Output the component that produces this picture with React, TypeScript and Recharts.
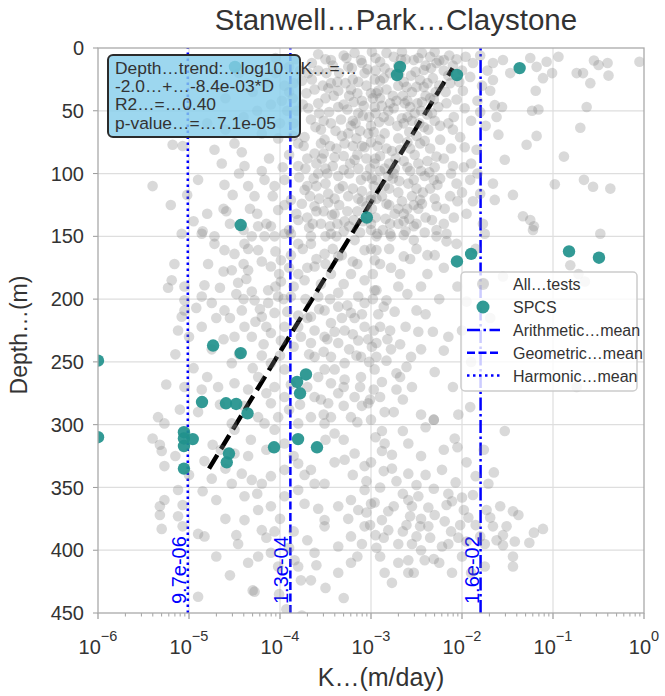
import { ScatterChart, Scatter, XAxis, YAxis, ReferenceLine } from 'recharts'

const FONT = '"Liberation Sans", Arial, Helvetica, sans-serif'
const INK = '#333333'
const BLUE = '#0000ff'
const TEAL = '#21918c'

// all tests as [log10 K (m/day), depth (m)]
const ALL_TESTS: [number, number][] = [
  // shallow, left of the main cloud
  [-5.18, 77], [-5.07, 78], [-4.72, 81], [-4.64, 92], [-4.5, 76], [-4.42, 83], [-4.39, 94], [-4.61, 109],
  [-4.52, 117], [-5.02, 117], [-4.59, 130], [-4.33, 128], [-4.25, 132], [-5.08, 148], [-4.85, 146], [-4.72, 150],
  [-4.1, 45], [-4.0, 60], [-3.95, 30], [-4.2, 68], [-4.4, 55], [-3.9, 15], [-4.05, 20], [-4.3, 35],
  [-5.4, 110], [-5.2, 125],
  [-4.6, 40], [-4.45, 20], [-4.25, 50], [-4.15, 28], [-3.98, 42], [-3.85, 28], [-4.05, 8], [-4.6, 65], [-4.8, 60],
  [-3.92, 50], [-4.02, 72], [-3.97, 95], [-4.12, 88], [-4.08, 118], [-4.2, 98], [-4.35, 110], [-4.45, 100],
  [-4.55, 140], [-4.4, 145], [-4.62, 128], [-4.8, 132], [-4.9, 105], [-4.95, 138],
  // shallow main cloud
  [-3.44, 9.5], [-3.25, 15], [-3.11, 9.5], [-3.07, 20], [-2.96, 25], [-3.62, 33], [-3.44, 28], [-3.22, 33],
  [-3.0, 36], [-3.58, 44], [-3.36, 47], [-3.14, 52], [-2.96, 47], [-3.66, 57], [-3.44, 60], [-3.22, 62],
  [-3.03, 68], [-3.73, 71], [-3.51, 73], [-3.29, 76], [-3.07, 79], [-3.62, 84], [-3.4, 87], [-3.18, 89],
  [-2.96, 92], [-3.8, 94], [-3.58, 100], [-3.36, 102], [-3.11, 105], [-3.95, 105], [-3.73, 113], [-3.47, 116],
  [-3.25, 118], [-3.0, 121], [-4.06, 110], [-3.88, 121], [-3.62, 126], [-3.4, 132], [-4.02, 129], [-3.8, 137],
  [-3.55, 140], [-3.29, 138], [-4.1, 142], [-3.88, 148], [-3.66, 150], [-3.44, 148], [-4.28, 118], [-4.17, 105],
  [-4.24, 142], [-4.31, 150],
  [-2.95, 8], [-2.75, 7], [-2.62, 9], [-2.48, 8], [-2.35, 7], [-2.25, 10], [-2.4, 14], [-2.7, 14],
  [-2.85, 16], [-3.3, 6], [-3.5, 9], [-3.65, 12], [-3.1, 12], [-2.1, 14], [-2.0, 18],
  [-3.35, 20], [-3.2, 25], [-3.05, 30], [-2.9, 26], [-2.7, 30], [-2.55, 35], [-2.4, 38], [-2.25, 30],
  [-2.15, 22], [-3.5, 40], [-3.3, 45], [-3.1, 42], [-2.95, 52], [-2.75, 48], [-2.6, 55], [-2.45, 50],
  [-2.3, 58], [-3.55, 65], [-3.25, 68], [-3.0, 62], [-2.85, 68], [-2.7, 72], [-2.5, 70], [-2.35, 80],
  [-2.2, 88], [-3.45, 78], [-3.15, 85], [-2.95, 88], [-2.8, 92], [-2.6, 95], [-2.45, 98], [-3.6, 92],
  [-3.3, 97], [-3.05, 102], [-2.85, 110], [-2.7, 115], [-2.5, 112], [-2.3, 120], [-3.5, 108], [-3.2, 112],
  [-3.0, 118], [-2.8, 125], [-2.6, 128], [-2.4, 135], [-3.35, 125], [-3.15, 130], [-2.95, 135], [-3.6, 130],
  [-3.45, 142], [-3.0, 145], [-2.7, 140], [-3.85, 60], [-3.75, 45], [-3.65, 25], [-3.9, 85], [-3.7, 110],
  [-3.95, 125], [-4.15, 140], [-3.9, 145],
  [-3.78, 18], [-3.71, 36], [-3.57, 52], [-3.49, 20], [-3.41, 38], [-3.33, 57], [-3.27, 8], [-3.19, 43],
  [-3.12, 66], [-3.04, 17], [-2.98, 40], [-2.91, 59], [-2.83, 33], [-2.77, 82], [-2.69, 21], [-2.63, 44],
  [-2.58, 67], [-2.51, 19], [-2.44, 43], [-2.37, 65], [-2.32, 24], [-2.26, 47], [-2.18, 35], [-2.09, 55],
  [-2.03, 27], [-3.86, 40], [-3.74, 78], [-3.63, 104], [-3.54, 88], [-3.47, 123], [-3.39, 66], [-3.31, 110],
  [-3.23, 92], [-3.16, 72], [-3.09, 138], [-3.01, 96], [-2.93, 78], [-2.88, 118], [-2.81, 102], [-2.73, 88],
  [-2.66, 122], [-2.59, 108], [-2.52, 85], [-2.43, 115], [-2.36, 99], [-2.27, 109], [-2.19, 128], [-2.12, 80],
  [-2.05, 122], [-1.98, 95], [-3.82, 132], [-3.68, 143], [-3.52, 130], [-3.38, 150], [-3.24, 142], [-3.12, 147],
  [-2.99, 128], [-2.87, 145], [-2.74, 132], [-2.62, 146], [-2.48, 128], [-2.41, 147], [-2.33, 137], [-2.2, 140],
  [-2.09, 135], [-3.58, 5], [-3.42, 14], [-3.18, 4], [-2.99, 3], [-2.83, 4], [-2.66, 3], [-2.44, 4],
  [-2.3, 3], [-2.14, 6], [-2.06, 9], [-1.96, 7], [-1.8, 6], [-1.72, 18], [-1.78, 30], [-1.83, 42],
  [-1.74, 62], [-1.9, 58], [-1.97, 48], [-2.02, 71], [-1.9, 92], [-1.83, 100],
  [-3.47, 32], [-3.28, 28], [-3.09, 54], [-2.88, 46], [-2.66, 56], [-2.47, 60], [-2.56, 22], [-2.33, 52],
  [-3.7, 88], [-3.5, 96], [-3.24, 100], [-2.97, 110], [-2.76, 104], [-2.55, 118], [-3.4, 120], [-3.1, 122],
  [-2.9, 98], [-2.38, 90], [-2.6, 75], [-2.8, 58], [-3.0, 75], [-3.2, 58], [-3.38, 80], [-3.55, 76],
  [-3.15, 36], [-2.95, 18], [-2.65, 38], [-2.5, 31], [-2.38, 28], [-2.2, 18],
  [-3.83, 9], [-3.76, 26], [-3.69, 48], [-3.61, 63], [-3.53, 30], [-3.46, 51], [-3.37, 27], [-3.32, 70],
  [-3.26, 49], [-3.21, 16], [-3.14, 27], [-3.08, 46], [-3.02, 55], [-2.97, 67], [-2.92, 34], [-2.86, 24],
  [-2.81, 50], [-2.76, 38], [-2.71, 62], [-2.67, 9], [-2.64, 27], [-2.6, 42], [-2.55, 58], [-2.49, 44],
  [-2.42, 31], [-2.38, 53], [-2.34, 16], [-2.29, 35], [-2.24, 62], [-2.17, 44],
  [-3.86, 70], [-3.79, 103], [-3.72, 96], [-3.67, 118], [-3.6, 110], [-3.52, 84], [-3.48, 100], [-3.42, 94],
  [-3.35, 112], [-3.3, 86], [-3.26, 130], [-3.2, 78], [-3.14, 96], [-3.1, 114], [-3.05, 88], [-2.99, 104],
  [-2.94, 120], [-2.9, 86], [-2.85, 96], [-2.8, 112], [-2.74, 96], [-2.69, 106], [-2.64, 90], [-2.57, 98],
  [-2.53, 125], [-2.48, 92], [-2.41, 102], [-2.35, 112], [-2.3, 95], [-2.24, 104],
  [-3.76, 124], [-3.7, 135], [-3.64, 140], [-3.57, 120], [-3.5, 150], [-3.43, 133], [-3.37, 140], [-3.3, 146],
  [-3.19, 137], [-3.14, 120], [-3.05, 126], [-3.0, 140], [-2.93, 148], [-2.84, 136], [-2.78, 150], [-2.7, 128],
  [-2.64, 138], [-2.58, 136], [-2.5, 140], [-2.44, 124],
  [-3.9, 35], [-3.82, 50], [-3.8, 76], [-3.69, 20], [-3.58, 18], [-3.52, 58], [-3.36, 34], [-3.24, 38],
  [-3.17, 60], [-3.1, 78], [-2.9, 40], [-2.83, 80], [-2.72, 42], [-2.57, 80], [-2.52, 52], [-2.41, 74],
  [-2.35, 40], [-2.15, 60], [-2.12, 100], [-2.0, 115],
  // shallow, right side
  [-2.9, 11], [-2.79, 20], [-2.53, 9.5], [-2.42, 17.5], [-2.28, 12], [-2.2, 9.5], [-2.46, 25.5], [-2.61, 31],
  [-2.94, 36], [-2.79, 44], [-2.57, 47], [-2.31, 41], [-2.06, 41], [-1.99, 34], [-2.13, 28], [-1.91, 23],
  [-1.88, 12], [-1.66, 12], [-1.55, 9.5], [-1.47, 20], [-1.66, 25.5], [-1.69, 34], [-1.25, 8], [-1.18, 15],
  [-1.07, 11], [-0.94, 7], [-1.11, 24], [-1.01, 20], [-1.19, 34], [-0.74, 20], [-0.67, 20], [-0.59, 28],
  [-0.55, 10], [-0.5, 13.5], [-0.4, 12], [-0.39, 22], [-0.05, 11], [-0.63, 47], [-0.7, 63.5], [-0.88, 86.5],
  [-1.16, 49], [-1.23, 50], [-1.29, 77], [-1.18, 70], [-1.6, 69], [-1.53, 89], [-1.64, 45.5], [-1.56, 47],
  [-1.62, 55], [-1.8, 51], [-1.84, 81], [-1.97, 79], [-2.1, 65], [-2.24, 73], [-2.42, 63], [-2.64, 60],
  [-2.86, 55], [-2.9, 73], [-2.68, 81], [-2.46, 76], [-2.28, 86.5], [-2.1, 94], [-2.31, 105], [-2.53, 105],
  [-2.75, 100], [-2.94, 105], [-2.06, 108], [-1.91, 105], [-1.66, 108], [-1.44, 117], [-1.64, 121], [-1.8, 116],
  [-1.88, 122], [-1.95, 132], [-2.13, 118], [-2.28, 126], [-2.46, 121], [-2.64, 132], [-2.83, 124], [-2.79, 140],
  [-2.53, 142], [-2.28, 145], [-2.17, 148], [-1.77, 140], [-1.33, 134], [-1.25, 137], [-1.21, 142], [-1.75, 148],
  [-0.48, 148], [-0.98, 108.5], [-0.66, 105], [-0.56, 110.5], [-0.37, 112],
  // middle depths, right side
  [-2.94, 150], [-2.79, 148], [-2.64, 149], [-2.53, 153], [-2.28, 150], [-2.17, 154], [-2.06, 156], [-2.94, 161],
  [-2.64, 166], [-2.57, 168], [-2.9, 172], [-2.94, 193], [-2.83, 201], [-2.86, 206], [-2.5, 209], [-2.97, 225],
  [-2.79, 225], [-2.94, 235], [-2.2, 241], [-2.94, 246], [-2.83, 249], [-2.61, 254], [-2.72, 259], [-2.68, 262],
  [-2.97, 272], [-3.01, 280], [-2.75, 290], [-2.31, 296], [-2.04, 292], [-1.91, 286], [-1.76, 187], [-1.69, 215],
  [-1.95, 202], [-1.55, 182], [-1.22, 145], [-0.81, 173], [-0.72, 180], [-0.65, 186], [-0.74, 270],
  // middle depths, left side
  [-4.86, 148], [-4.72, 156], [-4.61, 161], [-4.5, 164], [-4.39, 156], [-4.24, 161], [-4.17, 150], [-4.06, 150],
  [-3.95, 148], [-3.8, 156], [-3.66, 156], [-3.51, 164], [-3.36, 166], [-3.18, 153], [-3.07, 161], [-2.96, 169],
  [-5.16, 172], [-4.79, 172], [-4.53, 177], [-4.35, 177], [-4.1, 174], [-3.99, 169], [-3.8, 180], [-3.62, 174],
  [-3.44, 180], [-3.22, 180], [-3.07, 185], [-5.19, 185], [-5.23, 191], [-5.05, 190], [-4.83, 189], [-4.66, 191],
  [-4.46, 187], [-4.31, 194], [-4.13, 193], [-3.99, 186], [-3.73, 185], [-3.88, 198], [-3.58, 198], [-3.36, 195],
  [-3.14, 198], [-2.96, 193], [-5.05, 201], [-4.86, 198], [-4.75, 203], [-4.61, 209], [-4.42, 209], [-4.28, 201],
  [-4.13, 203], [-4.02, 198], [-5.05, 209], [-4.92, 207], [-5.08, 214], [-4.86, 222], [-5.12, 225], [-4.7, 215],
  [-4.55, 215], [-4.39, 222], [-4.2, 214], [-4.06, 211], [-3.95, 222], [-3.8, 213], [-3.66, 214], [-3.51, 209],
  [-3.36, 206], [-3.22, 211], [-3.07, 203], [-3.44, 219], [-3.62, 225], [-3.29, 225], [-3.07, 222], [-4.5, 230],
  [-4.31, 230], [-4.1, 227], [-3.99, 233], [-3.77, 230], [-3.51, 230], [-3.36, 235], [-3.14, 233], [-2.99, 238],
  [-4.53, 251], [-4.2, 245], [-4.1, 251], [-3.95, 256], [-3.62, 246], [-3.44, 246], [-3.29, 251], [-3.11, 246],
  [-3.51, 256], [-3.44, 267], [-3.29, 264], [-3.11, 262], [-2.96, 256], [-5.25, 268], [-5.05, 270], [-4.86, 272],
  [-4.68, 270], [-4.5, 267], [-4.35, 272], [-4.24, 262], [-4.06, 270], [-3.95, 278], [-4.1, 283], [-3.62, 278],
  [-3.47, 283], [-3.36, 275], [-3.18, 278], [-3.03, 283], [-3.66, 294], [-3.44, 294], [-3.22, 294], [-3.0, 296],
  [-4.02, 294], [-3.8, 299], [-4.24, 294], [-4.53, 299], [-5.34, 294], [-5.27, 299], [-4.66, 284],
  [-4.62, 178], [-4.48, 196], [-4.37, 184], [-4.22, 208], [-4.15, 222], [-4.01, 180], [-3.92, 210], [-3.85, 238],
  [-3.72, 200], [-3.68, 244], [-3.55, 188], [-3.48, 232], [-3.4, 256], [-3.3, 188], [-3.24, 240], [-3.18, 215],
  [-3.12, 270], [-3.02, 250], [-2.92, 212], [-2.88, 266], [-2.78, 240], [-2.7, 190], [-2.62, 222], [-2.55, 270],
  [-2.45, 240], [-2.38, 180], [-2.3, 258], [-2.25, 200], [-2.15, 230], [-2.1, 270], [-4.75, 240], [-4.62, 232],
  [-4.45, 244], [-4.3, 255], [-4.18, 236], [-4.0, 245], [-3.88, 268], [-3.78, 284], [-3.58, 262], [-3.52, 292],
  [-3.3, 285], [-3.15, 298], [-2.85, 290], [-2.65, 280], [-2.45, 292], [-2.5, 160], [-2.38, 165], [-2.78, 175],
  [-3.0, 160], [-3.2, 170], [-3.42, 160], [-3.6, 168], [-3.75, 160], [-3.9, 175], [-4.2, 170], [-4.4, 172],
  [-2.2, 175], [-2.05, 190], [-2.0, 225], [-1.9, 250], [-1.85, 160], [-5.0, 230], [-5.15, 244], [-4.95, 255],
  [-4.8, 262], [-5.1, 288], [-4.9, 290],
  [-4.4, 200], [-4.27, 218], [-4.05, 190], [-3.96, 200], [-3.85, 190], [-3.8, 222], [-3.7, 215], [-3.66, 235],
  [-3.57, 208], [-3.52, 242], [-3.45, 200], [-3.4, 226], [-3.32, 215], [-3.26, 205], [-3.2, 228], [-3.16, 245],
  [-3.1, 212], [-3.03, 232], [-2.98, 200], [-2.9, 222], [-2.82, 232], [-2.74, 210], [-2.68, 236], [-2.6, 196],
  [-2.56, 246], [-2.48, 226], [-2.4, 212], [-2.32, 226],
  [-4.35, 160], [-4.05, 162], [-3.88, 165], [-3.7, 175], [-3.5, 172], [-3.32, 165], [-3.15, 172], [-2.98, 180],
  [-2.8, 160], [-2.68, 180], [-2.45, 190], [-2.3, 165],
  [-4.4, 285], [-4.15, 275], [-3.9, 288], [-3.7, 270], [-3.55, 280], [-3.3, 270], [-3.1, 285], [-2.9, 278],
  [-2.72, 272],
  // deep, left side
  [-5.4, 311], [-5.32, 316], [-5.3, 321], [-5.27, 333], [-5.12, 352], [-5.27, 360], [-5.32, 365], [-5.32, 372],
  [-5.3, 383], [-5.12, 373], [-5.07, 381], [-5.07, 364], [-4.9, 387], [-4.83, 389], [-4.9, 437], [-4.74, 316],
  [-4.83, 329], [-4.75, 343], [-4.85, 353], [-4.5, 304], [-4.32, 312], [-4.17, 299], [-4.06, 304], [-4.5, 323],
  [-4.53, 347], [-4.42, 339], [-4.31, 344], [-4.2, 347], [-4.1, 341], [-4.39, 357], [-4.24, 368], [-4.1, 365],
  [-4.39, 376], [-4.2, 384], [-4.06, 385], [-4.48, 388], [-4.46, 395], [-4.24, 405], [-4.1, 402], [-4.02, 413],
  [-4.3, 432], [-3.8, 331], [-3.73, 340], [-3.66, 336], [-3.62, 347], [-3.51, 347], [-3.95, 336], [-3.95, 357],
  [-3.8, 352], [-3.73, 363], [-3.58, 367], [-3.51, 376], [-3.36, 365], [-3.22, 360], [-3.14, 368], [-3.07, 352],
  [-3.0, 363], [-3.07, 333], [-3.18, 323], [-3.29, 328], [-3.4, 307], [-3.51, 299], [-3.36, 397], [-3.22, 389],
  [-3.07, 381], [-3.62, 402], [-3.8, 413], [-3.66, 424], [-3.77, 424], [-3.36, 418], [-3.22, 410], [-3.84, 408],
  [-3.51, 381], [-4.28, 433], [-4.01, 435], [-3.93, 447], [-3.76, 452],
  [-4.65, 320], [-4.6, 335], [-4.7, 360], [-4.6, 375], [-4.35, 325], [-4.15, 320], [-3.95, 315], [-3.85, 325],
  [-4.25, 355], [-4.0, 375], [-3.85, 385], [-3.7, 392], [-3.9, 398], [-4.15, 390], [-4.35, 410], [-4.55, 420],
  [-4.7, 405], [-5.0, 340], [-5.15, 325], [-3.6, 412], [-3.5, 430], [-3.3, 438],
  // deep, right side
  [-2.88, 305], [-2.85, 315], [-2.88, 321], [-2.77, 324], [-2.59, 315], [-2.77, 335], [-2.86, 337], [-2.59, 339],
  [-2.22, 336], [-2.31, 296], [-2.08, 311], [-2.05, 318], [-1.76, 320], [-1.53, 305], [-2.07, 346], [-2.31, 351],
  [-1.85, 341], [-1.71, 347], [-2.48, 357], [-2.59, 360], [-2.96, 362], [-2.81, 369], [-2.88, 376], [-2.57, 373],
  [-2.37, 366], [-2.17, 364], [-2.11, 361], [-2.0, 358], [-1.88, 356], [-1.73, 368], [-1.93, 374], [-2.02, 380],
  [-2.19, 377], [-2.37, 381], [-2.46, 381], [-2.61, 380], [-2.81, 384], [-3.01, 380], [-2.5, 389], [-2.22, 397],
  [-2.04, 390], [-1.8, 389], [-1.69, 374], [-1.66, 381], [-1.51, 381], [-1.42, 393], [-1.55, 388], [-1.55, 396],
  [-1.44, 369], [-1.38, 372], [-1.21, 386], [-1.11, 383], [-1.26, 394], [-1.44, 405], [-1.44, 413], [-1.75, 413],
  [-2.11, 418], [-2.94, 398], [-2.85, 418], [-2.77, 426], [-2.59, 408], [-2.59, 418], [-2.41, 408], [-2.31, 407],
  [-2.53, 418], [-2.86, 390],
  [-3.2, 340], [-3.05, 345], [-2.9, 350], [-2.72, 345], [-2.65, 355], [-2.5, 348], [-2.4, 340], [-2.3, 372],
  [-2.12, 385], [-1.95, 393], [-1.85, 380], [-1.62, 392], [-1.58, 365], [-2.7, 395], [-2.9, 405], [-3.1, 395],
  [-3.25, 375], [-3.15, 405], [-2.45, 400], [-2.0, 405], [-1.9, 418], [-2.65, 385], [-2.75, 365], [-3.0, 330],
  [-2.95, 310], [-2.65, 305], [-2.45, 325], [-2.2, 320], [-1.95, 330], [-1.65, 338], [-2.4, 302], [-3.4, 330],
  [-3.5, 312], [-3.3, 312],
  [-2.55, 395], [-2.35, 390], [-2.15, 395], [-2.25, 410], [-2.45, 375], [-2.15, 355], [-1.98, 368], [-1.75, 395],
  [-2.7, 410], [-2.95, 388], [-3.05, 370], [-2.55, 365],
]

// SPCS tests
const SPCS_K = [
  3.2e-5, 3.7e-5, 9.0e-4, 2.08e-3, 1.93e-3, 8.8e-3, 4.3e-2, 8.8e-3, 1.26e-2, 0.15, 0.32,
  1.84e-5, 3.7e-5, 1e-6, 1.93e-4, 1.54e-4, 1.66e-4, 1.39e-5, 2.55e-5, 3.3e-5, 4.4e-5,
  8.8e-6, 8.8e-6, 1.1e-5, 8.8e-6, 8.8e-6, 2.75e-5, 2.6e-5, 8.6e-5, 1.58e-4, 2.55e-4, 1e-6,
]
const SPCS_DEPTH = [
  15, 141, 135, 15, 21.5, 21.5, 16, 170, 164, 162, 167,
  237, 243, 249, 260, 266, 275, 282, 283, 283.5, 291,
  306, 311, 311.5, 317, 335, 323, 330, 318, 311.5, 318, 310,
]

// depth trend end points
const TREND_K = [1.66e-5, 7.9e-3]
const TREND_DEPTH = [335, 16]

const MEAN_NAMES = ['Arithmetic…mean', 'Geometric…mean', 'Harmonic…mean']
const MEAN_VALUES = [1.6e-2, 1.3e-4, 9.7e-6]
const MEAN_LABELS = ['1.6e-02', '1.3e-04', '9.7e-06']
const MEAN_DASH = ['13 3.5 2.5 3.5', '8 3.5', '2.5 3.5']

const K_DECADES = [1e-6, 1e-5, 1e-4, 1e-3, 1e-2, 1e-1, 1]
const DEPTH_TICKS = [0, 50, 100, 150, 200, 250, 300, 350, 400, 450]

const ANNOTATION = [
  'Depth…trend:…log10…K…=…',
  '-2.0…+…-8.4e-03*D',
  'R2…=…0.40',
  'p-value…=…7.1e-05',
]

const allData = ALL_TESTS.map(([lk, depth]) => ({ k: 10 ** lk, depth }))
const spcsData = SPCS_K.map((k, i) => ({ k, depth: SPCS_DEPTH[i] }))
const kTicks: number[] = []
K_DECADES.forEach((d, i) => {
  if (i === K_DECADES.length - 1) { kTicks.push(d); return }
  for (let m = 1; m <= 9; m++) kTicks.push(d * m)
})

function LogTick({ x, y, payload }: any) {
  const e = Math.log10(payload.value)
  const major = Math.abs(e - Math.round(e)) < 1e-6
  const exp = Math.round(e)
  return (
    <g>
      <line x1={x} x2={x} y1={y} y2={y + (major ? 6 : 3.5)} stroke="#999" strokeWidth={major ? 1.2 : 0.9} />
      {major && (
        <text x={x} y={y + 41} textAnchor="middle" fill={INK} fontFamily={FONT} fontSize={20}>
          <tspan>10</tspan>
          <tspan dy={-13} fontSize={14.5}>{exp === 0 ? '0' : `\u2212${-exp}`}</tspan>
        </text>
      )}
    </g>
  )
}

function MeanLabel({ viewBox, text }: any) {
  const x = viewBox.x - 2
  const y = viewBox.y + viewBox.height - 9
  return (
    <text transform={`translate(${x},${y}) rotate(-90)`} fill={BLUE} fontFamily={FONT} fontSize={20}>
      {text}
    </text>
  )
}

const dot = (r: number, fill: string, opacity: number) => (p: any) =>
  <circle cx={p.cx} cy={p.cy} r={r} fill={fill} fillOpacity={opacity} stroke="none" clipPath="url(#plotClip)" />

export default function App() {
  return (
    <div style={{ position: 'relative', width: 665, height: 696, background: '#fff' }}>
      <style>{'body{margin:0}'}</style>
      <ScatterChart width={665} height={696} margin={{ top: 48, right: 21, bottom: 23, left: 38 }}>
        <XAxis
          type="number"
          dataKey="k"
          scale="log"
          domain={[1e-6, 1]}
          allowDataOverflow
          ticks={kTicks}
          interval={0}
          tick={<LogTick />}
          tickLine={false}
          tickSize={0}
          tickMargin={0}
          axisLine={false}
          height={60}
        />
        <YAxis
          type="number"
          dataKey="depth"
          domain={[0, 450]}
          reversed
          allowDataOverflow
          ticks={DEPTH_TICKS}
          interval={0}
          width={60}
          tickSize={5}
          tickMargin={9}
          tickLine={{ stroke: '#999' }}
          axisLine={false}
          tick={{ fill: INK, fontSize: 20, fontFamily: FONT }}
        />
        {K_DECADES.slice(1, -1).map(v => (
          <ReferenceLine key={`gx${v}`} x={v} stroke="#dedede" strokeWidth={1.2} />
        ))}
        {DEPTH_TICKS.slice(1, -1).map(v => (
          <ReferenceLine key={`gy${v}`} y={v} stroke="#dedede" strokeWidth={1.2} />
        ))}
        <Scatter data={allData} shape={dot(5.3, '#808080', 0.3)} isAnimationActive={false} />
        {MEAN_VALUES.map((v, i) => (
          <ReferenceLine
            key={MEAN_NAMES[i]}
            x={v}
            stroke={BLUE}
            strokeWidth={2.5}
            strokeDasharray={MEAN_DASH[i]}
            label={(p: any) => <MeanLabel {...p} text={MEAN_LABELS[i]} />}
          />
        ))}
        <Scatter data={spcsData} shape={dot(6.2, TEAL, 0.92)} isAnimationActive={false} />
        <ReferenceLine
          segment={[{ x: TREND_K[0], y: TREND_DEPTH[0] }, { x: TREND_K[1], y: TREND_DEPTH[1] }]}
          stroke="#000"
          strokeWidth={4.5}
          strokeDasharray="16 7"
        />
      </ScatterChart>

      <svg width={665} height={696} style={{ position: 'absolute', left: 0, top: 0, pointerEvents: 'none' }}>
        <defs>
          <clipPath id="plotClip">
            <rect x={98} y={48} width={546} height={565} />
          </clipPath>
        </defs>
        <rect x={98} y={48} width={546} height={565} fill="none" stroke="#aaaaaa" strokeWidth={1.3} />
        <text x={396} y={30} textAnchor="middle" fill={INK} fontFamily={FONT} fontSize={29.5}>
          Stanwell…Park…Claystone
        </text>
        <text x={381} y={686} textAnchor="middle" fill={INK} fontFamily={FONT} fontSize={25}>
          K…(m/day)
        </text>
        <text transform="translate(27,335) rotate(-90)" textAnchor="middle" fill={INK} fontFamily={FONT} fontSize={23}>
          Depth…(m)
        </text>

        <rect x={108} y={55} width={192} height={82} rx={5} fill="#87ceeb" fillOpacity={0.82} stroke="#2b2b2b" strokeWidth={2} />
        {ANNOTATION.map((line, i) => (
          <text key={line} x={115} y={74 + i * 18.2} fill={INK} fontFamily={FONT} fontSize={17.4}>
            {line}
          </text>
        ))}

        <rect x={461} y={272} width={176} height={119} rx={4} fill="#ffffff" fillOpacity={0.8} stroke="#cccccc" strokeWidth={1.5} />
        <circle cx={483} cy={284} r={6} fill="#808080" fillOpacity={0.3} />
        <text x={513} y={290} fill={INK} fontFamily={FONT} fontSize={16}>All…tests</text>
        <circle cx={483} cy={307} r={6.5} fill={TEAL} fillOpacity={0.92} />
        <text x={513} y={313} fill={INK} fontFamily={FONT} fontSize={16}>SPCS</text>
        {MEAN_NAMES.map((name, i) => (
          <g key={name}>
            <line x1={467} x2={500} y1={330 + i * 22.8} y2={330 + i * 22.8} stroke={BLUE} strokeWidth={2.5} strokeDasharray={MEAN_DASH[i]} />
            <text x={513} y={336 + i * 22.8} fill={INK} fontFamily={FONT} fontSize={16}>{name}</text>
          </g>
        ))}
      </svg>
    </div>
  )
}
